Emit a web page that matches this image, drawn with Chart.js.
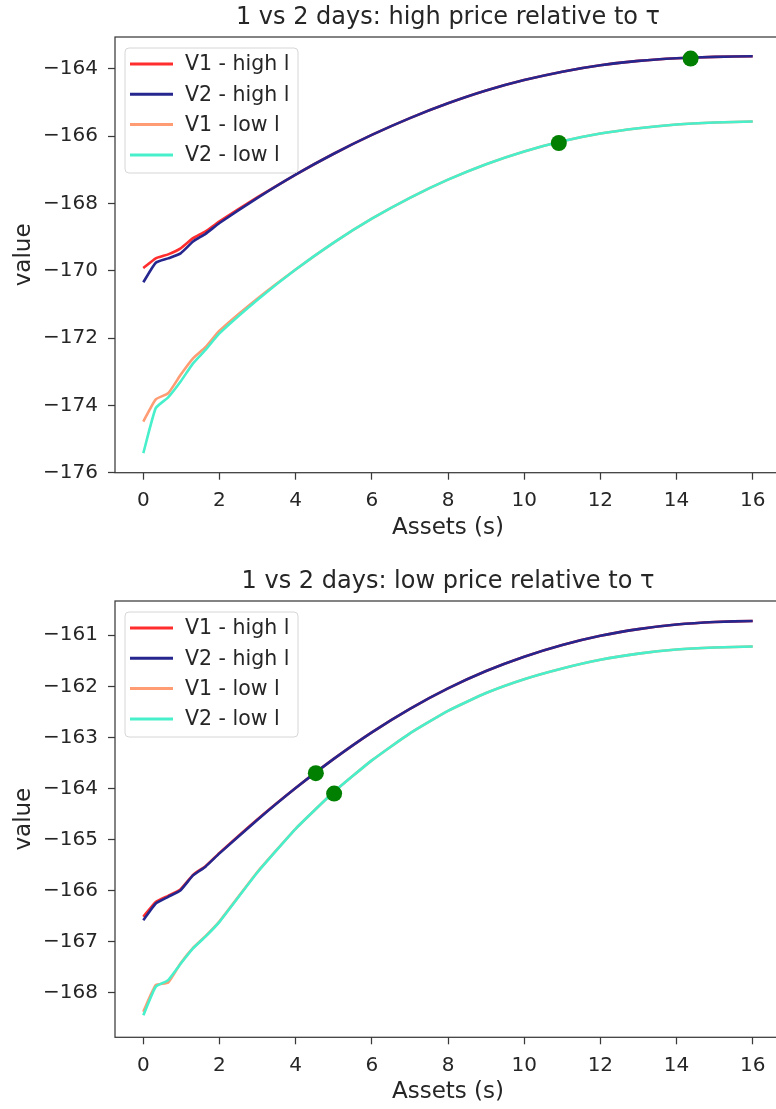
<!DOCTYPE html>
<html><head><meta charset="utf-8">
<script src="https://cdn.jsdelivr.net/npm/chart.js@4/dist/chart.umd.min.js"></script>
<style>
html,body{margin:0;padding:0;background:#fff;overflow:hidden;width:776px;height:1109px;}
canvas{position:absolute;left:0;}
#c1{top:0}
#c2{top:564px}
</style></head><body>
<canvas id="c1" width="790" height="545"></canvas>
<canvas id="c2" width="790" height="545"></canvas>
<script>
// ---- data ----
const xValues = [0, 0.327, 0.653, 0.98, 1.306, 1.633, 2, 3, 4, 5, 6, 7, 8, 9, 10, 11, 12, 13, 14, 15, 16];
const seriesLabels = ['V1 - high l', 'V2 - high l', 'V1 - low l', 'V2 - low l'];

const topTitle = '1 vs 2 days: high price relative to \u03c4';
const topV1High = [-169.92, -169.63, -169.51, -169.33, -169.03, -168.83, -168.53, -167.81, -167.14, -166.52, -165.96, -165.46, -165.02, -164.64, -164.33, -164.08, -163.89, -163.76, -163.68, -163.64, -163.62];
const topV2High = [-170.34, -169.76, -169.63, -169.48, -169.13, -168.90, -168.58, -167.83, -167.14, -166.52, -165.96, -165.46, -165.02, -164.64, -164.33, -164.08, -163.89, -163.76, -163.68, -163.64, -163.62];
const topV1Low  = [-174.48, -173.82, -173.64, -173.09, -172.60, -172.27, -171.78, -170.82, -169.96, -169.16, -168.45, -167.83, -167.29, -166.83, -166.45, -166.15, -165.92, -165.76, -165.65, -165.59, -165.56];
const topV2Low  = [-175.42, -174.08, -173.76, -173.29, -172.75, -172.35, -171.86, -170.86, -169.96, -169.16, -168.45, -167.83, -167.29, -166.83, -166.45, -166.15, -165.92, -165.76, -165.65, -165.59, -165.56];
const topDotsX = [14.37, 10.91];
const topDotsY = [-163.69, -166.20];
const topYTicks = [-176, -174, -172, -170, -168, -166, -164];
const topYRange = [-176.0, -163.05];

const botTitle = '1 vs 2 days: low price relative to \u03c4';
const botV1High = [-166.51, -166.22, -166.10, -165.97, -165.69, -165.52, -165.26, -164.60, -163.99, -163.42, -162.90, -162.44, -162.04, -161.70, -161.42, -161.19, -161.01, -160.88, -160.79, -160.74, -160.72];
const botV2High = [-166.58, -166.25, -166.12, -165.99, -165.70, -165.53, -165.27, -164.61, -163.99, -163.42, -162.90, -162.44, -162.04, -161.70, -161.42, -161.19, -161.01, -160.88, -160.79, -160.74, -160.72];
const botV1Low  = [-168.37, -167.85, -167.80, -167.42, -167.12, -166.89, -166.60, -165.63, -164.79, -164.07, -163.45, -162.92, -162.48, -162.13, -161.86, -161.65, -161.48, -161.36, -161.28, -161.24, -161.22];
const botV2Low  = [-168.44, -167.88, -167.75, -167.43, -167.13, -166.90, -166.61, -165.64, -164.79, -164.07, -163.45, -162.92, -162.48, -162.13, -161.86, -161.65, -161.48, -161.36, -161.28, -161.24, -161.22];
const botDotsX = [4.53, 5.01];
const botDotsY = [-163.70, -164.10];
const botYTicks = [-168, -167, -166, -165, -164, -163, -162, -161];
const botYRange = [-168.87, -160.33];

const xTicks = [0, 2, 4, 6, 8, 10, 12, 14, 16];
const xRange = [-0.743, 16.743];

// ---- styles ----
const FONT = 'DejaVu Sans';
const TEXT = '#262626';
const SPINE = '#3a3a3a';
const lineColors = ['#ff2d2d', '#26268f', '#ff9c74', '#48efcb'];
const dotColor = '#007f00';

function pts(xs, ys) { return xs.map((x, i) => ({x: x, y: ys[i]})); }
function fmt(v) { return v < 0 ? '\u2212' + Math.abs(v) : String(v); }

const framePlugin = {
  id: 'frame',
  afterDraw(chart) {
    const {ctx, chartArea: a} = chart;
    ctx.save();
    ctx.strokeStyle = SPINE; ctx.lineWidth = 1.25;
    ctx.strokeRect(a.left, a.top, a.right - a.left, a.bottom - a.top);
    ctx.restore();
  }
};

const boxLegend = {
  id: 'boxLegend',
  afterDatasetsDraw(chart) {
    const {ctx, chartArea: a} = chart;
    const items = chart.data.datasets.filter(d => d.inLegend);
    const bx = a.left + 10, by = a.top + 11, bw = 173, bh = 125, r = 4;
    ctx.save();
    ctx.beginPath();
    ctx.moveTo(bx + r, by);
    ctx.arcTo(bx + bw, by, bx + bw, by + bh, r);
    ctx.arcTo(bx + bw, by + bh, bx, by + bh, r);
    ctx.arcTo(bx, by + bh, bx, by, r);
    ctx.arcTo(bx, by, bx + bw, by, r);
    ctx.closePath();
    ctx.fillStyle = 'rgba(255,255,255,0.85)';
    ctx.fill();
    ctx.strokeStyle = '#d6d6d6'; ctx.lineWidth = 1;
    ctx.stroke();
    items.forEach((d, i) => {
      const y = by + 16 + i * 30.3;
      ctx.strokeStyle = d.borderColor; ctx.lineWidth = 3;
      ctx.beginPath(); ctx.moveTo(bx + 5, y); ctx.lineTo(bx + 48, y); ctx.stroke();
      ctx.fillStyle = TEXT;
      ctx.font = '20.5px "' + FONT + '"';
      ctx.textBaseline = 'middle'; ctx.textAlign = 'left';
      ctx.fillText(d.label, bx + 60, y + 1);
    });
    ctx.restore();
  }
};

function makeChart(id, title, series, dotsX, dotsY, yTicks, yRange, xAxisH) {
  const datasets = series.map((ys, i) => ({
    label: seriesLabels[i],
    data: pts(xValues, ys),
    showLine: true,
    borderColor: lineColors[i],
    backgroundColor: lineColors[i],
    borderWidth: 2.6,
    pointRadius: 0,
    tension: 0.15,
    order: 4 - i,
    inLegend: true
  }));
  datasets.push({
    label: 'optimum',
    data: pts(dotsX, dotsY),
    showLine: false,
    pointRadius: 8,
    pointBorderWidth: 0,
    pointBackgroundColor: dotColor,
    pointBorderColor: dotColor,
    borderColor: dotColor,
    backgroundColor: dotColor,
    order: 0,
    inLegend: false
  });
  return new Chart(document.getElementById(id), {
    type: 'scatter',
    data: {datasets: datasets},
    options: {
      responsive: false,
      animation: false,
      devicePixelRatio: 1,
      layout: {padding: {left: 0, right: 9, top: 0, bottom: 0}},
      plugins: {
        legend: {display: false},
        tooltip: {enabled: false},
        title: {display: false}
      },
      scales: {
        t: {
          type: 'linear', position: 'top', min: xRange[0], max: xRange[1],
          afterFit: s => { s.height = 37; },
          grid: {display: false},
          border: {display: false},
          ticks: {display: false},
          title: {display: true, text: title, color: TEXT, font: {family: FONT, size: 24}, padding: {top: 3.4, bottom: 0}}
        },
        x: {
          type: 'linear', position: 'bottom', min: xRange[0], max: xRange[1],
          afterBuildTicks: s => { s.ticks = xTicks.map(v => ({value: v})); },
          afterFit: s => { s.height = xAxisH; },
          grid: {display: true, drawOnChartArea: false, drawTicks: true, tickLength: 7, tickColor: SPINE, tickWidth: 1.25},
          border: {display: false},
          ticks: {font: {family: FONT, size: 20}, color: TEXT, padding: 9, maxRotation: 0, autoSkip: false, callback: v => fmt(v)},
          title: {display: true, text: 'Assets (s)', color: TEXT, font: {family: FONT, size: 23}, padding: {top: 0, bottom: 3}}
        },
        y: {
          type: 'linear', min: yRange[0], max: yRange[1],
          afterBuildTicks: s => { s.ticks = yTicks.map(v => ({value: v})); },
          afterFit: s => { s.width = 115; },
          grid: {display: true, drawOnChartArea: false, drawTicks: true, tickLength: 7, tickColor: SPINE, tickWidth: 1.25},
          border: {display: false},
          ticks: {font: {family: FONT, size: 20}, color: TEXT, padding: 10, autoSkip: false, callback: v => fmt(v)},
          title: {display: true, text: 'value', color: TEXT, font: {family: FONT, size: 23}, padding: {top: 10, bottom: 0}}
        }
      }
    },
    plugins: [boxLegend, framePlugin]
  });
}

makeChart('c1', topTitle, [topV1High, topV2High, topV1Low, topV2Low], topDotsX, topDotsY, topYTicks, topYRange, 545 - 472.7);
makeChart('c2', botTitle, [botV1High, botV2High, botV1Low, botV2Low], botDotsX, botDotsY, botYTicks, botYRange, 545 - 473.3);
</script>
</body></html>
